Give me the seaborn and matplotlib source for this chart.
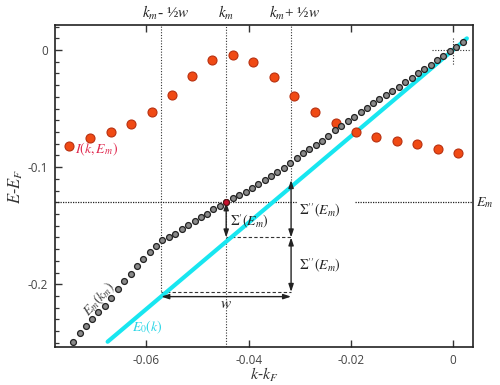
import numpy as np
import pandas as pd
import seaborn as sns
import matplotlib.pyplot as plt
from matplotlib.ticker import MultipleLocator

# ---------------- data ----------------
# measured dispersion E_m(k_m) (gray dots)
em_k = [-0.0744, -0.0731, -0.0719, -0.0706, -0.0694, -0.0681, -0.0669, -0.0656,
        -0.0644, -0.0631, -0.0619, -0.0606, -0.0594, -0.0581, -0.0569, -0.0556,
        -0.0544, -0.0531, -0.0519, -0.0506, -0.0494, -0.0481, -0.0469, -0.0456,
        -0.0444, -0.0431, -0.0419, -0.0406, -0.0394, -0.0381, -0.0369, -0.0356,
        -0.0344, -0.0331, -0.0319, -0.0306, -0.0294, -0.0281, -0.0269, -0.0256,
        -0.0244, -0.0231, -0.0219, -0.0206, -0.0194, -0.0181, -0.0169, -0.0156,
        -0.0144, -0.0131, -0.0119, -0.0106, -0.0094, -0.0081, -0.0069, -0.0056,
        -0.0044, -0.0031, -0.0019, -0.0006, 0.0006, 0.0019]
em_E = [-0.2494, -0.2417, -0.2353, -0.2295, -0.2235, -0.2182, -0.2119, -0.2039,
        -0.1971, -0.1914, -0.1840, -0.1783, -0.1726, -0.1669, -0.1626, -0.1599,
        -0.1574, -0.1530, -0.1493, -0.1459, -0.1424, -0.1399, -0.1359, -0.1328,
        -0.1300, -0.1266, -0.1235, -0.1209, -0.1180, -0.1146, -0.1109, -0.1075,
        -0.1044, -0.1007, -0.0964, -0.0924, -0.0883, -0.0842, -0.0813, -0.0774,
        -0.0734, -0.0686, -0.0646, -0.0603, -0.0569, -0.0532, -0.0495, -0.0455,
        -0.0421, -0.0387, -0.0350, -0.0313, -0.0276, -0.0236, -0.0196, -0.0162,
        -0.0126, -0.0088, -0.0048, -0.0011, 0.0026, 0.0066]

# MDC intensity I(k, E_m) (red dots, plotted in energy units)
mdc_k = [-0.0751, -0.0711, -0.0670, -0.0630, -0.0590, -0.0550, -0.0511, -0.0471,
         -0.0431, -0.0391, -0.0351, -0.0311, -0.0270, -0.0230, -0.0190, -0.0151,
         -0.0110, -0.0070, -0.0030, 0.0010]
mdc_I = [-0.0817, -0.0748, -0.0700, -0.0634, -0.0529, -0.0384, -0.0219, -0.0083,
         -0.0043, -0.0105, -0.0233, -0.0395, -0.0526, -0.0625, -0.0700, -0.0742,
         -0.0774, -0.0802, -0.0845, -0.0879]

# bare band E_0(k) (cyan line)
bare_k = [-0.0676, 0.0027]
bare_E = [-0.249, 0.0099]

# construction values
km = -0.0444
half_w = 0.0127
Em = -0.130
E0_km = -0.160
E0_left = -0.2065
E0_right = -0.111

# ---------------- style ----------------
sns.set_style("ticks")
plt.rcParams['font.family'] = ['Open Sans', 'DejaVu Sans']
plt.rcParams['mathtext.fontset'] = 'stix'
plt.rcParams['axes.unicode_minus'] = False

fig = plt.figure(figsize=(5, 3.85), dpi=100)
ax = fig.add_axes([0.11, 0.099, 0.836, 0.836])

lc = '#333333'

# guide lines
ax.axvline(km, color=lc, lw=0.8, ls=(0, (1, 1.5)), zorder=1)
ax.plot([km - half_w, km - half_w], [0.03, E0_left], color=lc, lw=0.8, ls=(0, (1, 1.5)), zorder=1)
ax.plot([km + half_w, km + half_w], [0.03, E0_right], color=lc, lw=0.8, ls=(0, (1, 1.5)), zorder=1)
ax.axhline(Em, color='#222222', lw=0.9, ls=(0, (1, 1)), zorder=1)
ax.plot([km, km + half_w], [E0_km, E0_km], color=lc, lw=0.8, ls=(0, (3, 2)), zorder=1)
ax.plot([km - half_w, km + half_w], [E0_left, E0_left], color=lc, lw=0.8, ls=(0, (3, 2)), zorder=1)
ax.plot([-0.0042, 0.0035], [0, 0], color=lc, lw=0.8, ls=(0, (1, 1.5)), zorder=1)
ax.plot([0, 0], [0.01, -0.013], color=lc, lw=0.8, ls=(0, (1, 1.5)), zorder=1)

# bare band
sns.lineplot(x=bare_k, y=bare_E, color='#18e6f0', lw=3, ax=ax, zorder=2)

# dots
sns.scatterplot(x=mdc_k, y=mdc_I, s=42, color='#f04a14', edgecolor='#b83010',
                linewidth=0.8, ax=ax, zorder=3)
sns.scatterplot(x=em_k, y=em_E, s=18, color='#8a8a8a', edgecolor='#222222',
                linewidth=0.9, ax=ax, zorder=4)
ax.scatter([km], [Em], s=18, color='#c8102e', edgecolor='#551111', linewidth=0.8, zorder=5)

# arrows
arr = dict(arrowstyle='<|-|>,head_length=0.45,head_width=0.15', color='#222222', lw=1.0,
           shrinkA=0, shrinkB=0)
ax.annotate('', xy=(km, E0_km), xytext=(km, Em), arrowprops=arr)
ax.annotate('', xy=(km + half_w, E0_km), xytext=(km + half_w, E0_right), arrowprops=arr)
ax.annotate('', xy=(km + half_w, E0_left), xytext=(km + half_w, E0_km), arrowprops=arr)
ax.annotate('', xy=(km - half_w, -0.2105), xytext=(km + half_w, -0.2105), arrowprops=arr)

# labels on the plot
ax.text(-0.0739, -0.0845, r'$I(k,E_m)$', color='#e0284e', fontsize=10, va='center', ha='left')
ax.text(km + 0.0008, -0.1465, r"$\Sigma'(E_m)$", color='#222222', fontsize=10, va='center')
ax.text(km + half_w + 0.0016, -0.1375, r"$\Sigma''(E_m)$", color='#222222', fontsize=10,
        va='center', bbox=dict(fc='white', ec='none', pad=1.5), zorder=2)
ax.add_patch(plt.Rectangle((km + half_w + 0.0085, Em - 0.004), 0.004, 0.008,
                           fc='white', ec='none', zorder=1.5))
ax.text(km + half_w + 0.0016, -0.1840, r"$\Sigma''(E_m)$", color='#222222', fontsize=10, va='center')
ax.text(km, -0.2170, r'$w$', color='#222222', fontsize=11, ha='center', va='center')
ax.text(-0.0693, -0.2130, r'$E_m(k_m)$', color='#444444', fontsize=10, rotation=48,
        ha='center', va='center')
ax.text(-0.0598, -0.2365, r'$E_0(k)$', color='#2ad6e6', fontsize=10, ha='center', va='center')
ax.text(1.008, Em, r'$E_m$', transform=ax.get_yaxis_transform(), fontsize=10,
        color='#222222', va='center', ha='left')

# top labels
top_tr = ax.get_xaxis_transform()
ax.text(km - half_w + 0.0008, 1.01, r'$k_m$- ½$w$', transform=top_tr, ha='center',
        va='bottom', fontsize=11, color='#222222', fontfamily='Liberation Serif')
ax.text(km, 1.01, r'$k_m$', transform=top_tr, ha='center', va='bottom', fontsize=11,
        color='#222222')
ax.text(km + half_w + 0.0007, 1.01, r'$k_m$+ ½$w$', transform=top_tr, ha='center',
        va='bottom', fontsize=11, color='#222222', fontfamily='Liberation Serif')

# axes
ax.set_xlim(-0.0779, 0.0039)
ax.set_ylim(-0.2534, 0.0213)
ax.set_xticks([-0.06, -0.04, -0.02, 0])
ax.set_xticklabels(['-0.06', '-0.04', '-0.02', '0'])
ax.set_yticks([-0.2, -0.1, 0])
ax.set_yticklabels(['-0.2', '-0.1', '0'])
ax.yaxis.set_minor_locator(MultipleLocator(0.01))
ax.tick_params(axis='both', which='major', direction='in', length=5, width=1,
               labelsize=8.5, labelcolor='#444444', color='#333333', pad=5)
ax.tick_params(axis='x', top=True)
ax.tick_params(axis='y', which='minor', direction='in', length=3, width=0.9, color='#333333')
for sp in ax.spines.values():
    sp.set_linewidth(1.2)
    sp.set_color('#222222')

ax.set_xlabel(r'$k$-$k_F$', fontsize=11.5, color='#333333', labelpad=-1)
ax.set_ylabel(r'$E$-$E_F$', fontsize=12, color='#333333', labelpad=2)

plt.savefig('out.png', dpi=100)
plt.close()
